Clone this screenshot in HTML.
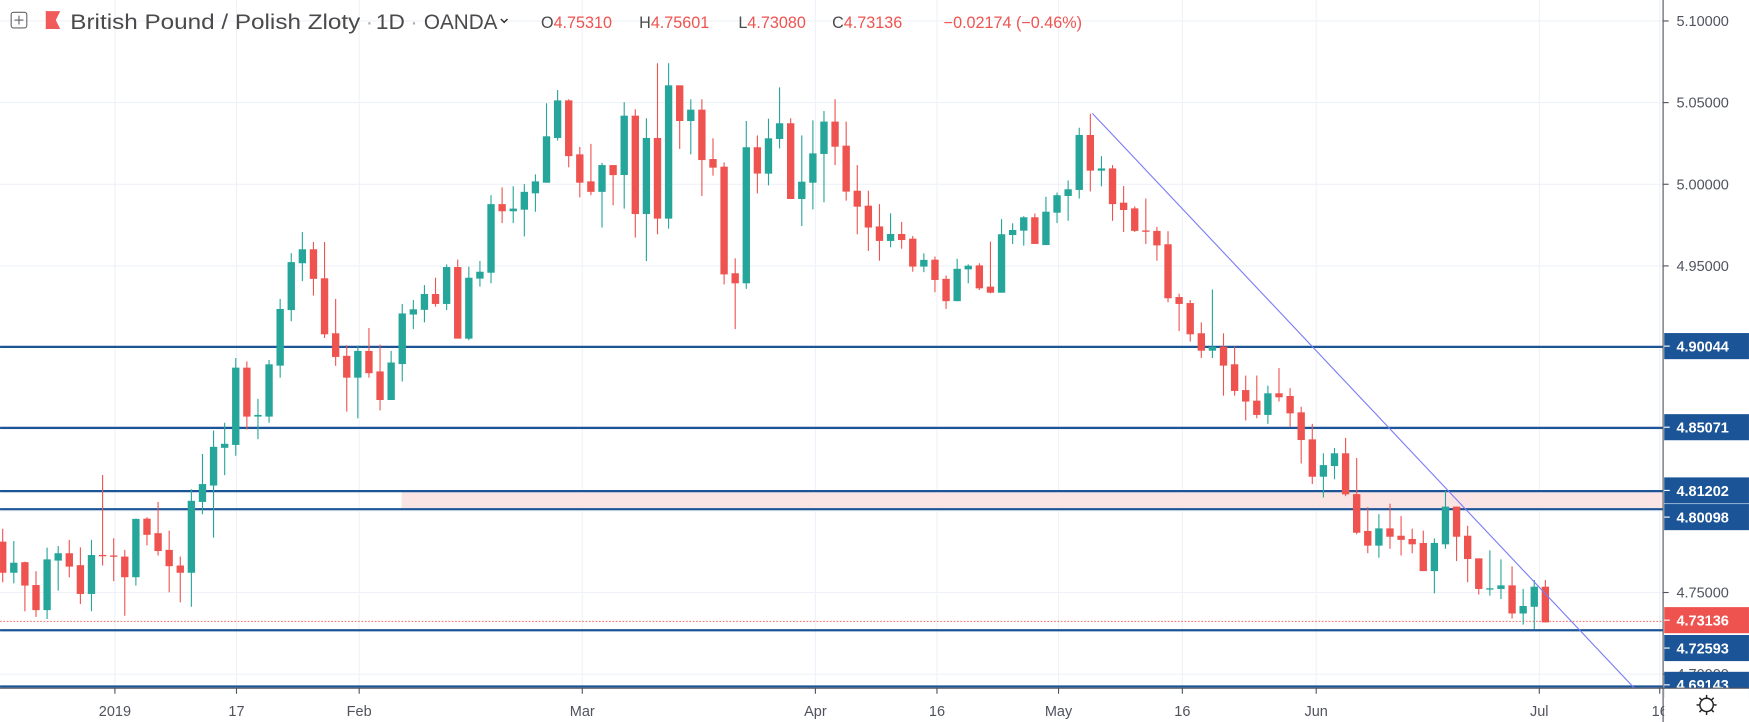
<!DOCTYPE html>
<html><head><meta charset="utf-8"><style>
html,body{margin:0;padding:0;background:#fff;overflow:hidden}
svg{display:block}
</style></head><body>
<svg id="c" width="1749" height="722" viewBox="0 0 1568 647.3" xmlns="http://www.w3.org/2000/svg" font-family="Liberation Sans, sans-serif">
<defs><clipPath id="plot"><rect x="0" y="0" width="1491" height="616.5"/></clipPath></defs>
<rect width="1568" height="647.3" fill="#fff"/>
<g id="grid" stroke="#eef2f8" stroke-width="1"></g>
<g clip-path="url(#plot)">
<rect x="360" y="440.5" width="1131" height="16" fill="#fbe4e4"/>
<g stroke="#1c5597" stroke-width="2">
<line x1="0" y1="311" x2="1491" y2="311"/>
<line x1="0" y1="383.6" x2="1491" y2="383.6"/>
<line x1="0" y1="440.3" x2="1491" y2="440.3"/>
<line x1="0" y1="456.5" x2="1491" y2="456.5"/>
<line x1="0" y1="565" x2="1491" y2="565"/>
<line x1="0" y1="615.5" x2="1491" y2="615.5"/>
</g>
<line x1="0" y1="557" x2="1491" y2="557" stroke="#ef5350" stroke-width="0.8" stroke-dasharray="1.5,1.5"/>
<g id="candles"></g>
<line x1="979.3" y1="101.6" x2="1500" y2="653.8" stroke="#7b7cf5" stroke-width="1"/>
</g>
<line x1="1491" y1="0" x2="1491" y2="647.3" stroke="#50535e" stroke-width="1"/>
<line x1="0" y1="617" x2="1491" y2="617" stroke="#50535e" stroke-width="1"/>
<g id="xaxis" font-size="13" fill="#50535e" text-anchor="middle"></g>
<g id="yaxis" font-size="13"></g>
<!-- header -->
<rect x="10" y="11" width="14" height="14" rx="2" fill="none" stroke="#666" stroke-width="1"/>
<line x1="17" y1="14" x2="17" y2="22" stroke="#666"/><line x1="13" y1="18" x2="21" y2="18" stroke="#666"/>
<path d="M41 10 H54 L50 18 L54 26 H41 Z" fill="#f05a5a"/>
<g font-size="19" fill="#4a4a4a">
<text x="63" y="26" textLength="260" lengthAdjust="spacingAndGlyphs">British Pound / Polish Zloty</text>
<text x="328" y="26" fill="#aaa">·</text>
<text x="337" y="26" textLength="26" lengthAdjust="spacingAndGlyphs">1D</text>
<text x="368" y="26" fill="#aaa">·</text>
<text x="380" y="26" textLength="66" lengthAdjust="spacingAndGlyphs">OANDA</text>
</g>
<path d="M449 17 l3 3 l3 -3" fill="none" stroke="#333" stroke-width="1.3"/>
<g font-size="14.5">
<text x="485" y="25" fill="#4a4a4a">O<tspan fill="#ef5350">4.75310</tspan></text>
<text x="573" y="25" fill="#4a4a4a">H<tspan fill="#ef5350">4.75601</tspan></text>
<text x="662" y="25" fill="#4a4a4a">L<tspan fill="#ef5350">4.73080</tspan></text>
<text x="746" y="25" fill="#4a4a4a">C<tspan fill="#ef5350">4.73136</tspan></text>
<text x="846" y="25" fill="#ef5350">−0.02174 (−0.46%)</text>
</g>
<!-- gear -->
<g transform="translate(1530,632)" stroke="#222" fill="none" stroke-width="1.3">
<circle r="6"/>
<line x1="0" y1="-9" x2="0" y2="-6"/><line x1="0" y1="6" x2="0" y2="9"/>
<line x1="-9" y1="0" x2="-6" y2="0"/><line x1="6" y1="0" x2="9" y2="0"/>
<line x1="-6.4" y1="-6.4" x2="-4.2" y2="-4.2"/><line x1="4.2" y1="4.2" x2="6.4" y2="6.4"/>
<line x1="-6.4" y1="6.4" x2="-4.2" y2="4.2"/><line x1="4.2" y1="-4.2" x2="6.4" y2="-6.4"/>
</g>
</svg>
<script>
var NS="http://www.w3.org/2000/svg";
function el(t,a,p){var e=document.createElementNS(NS,t);for(var k in a)e.setAttribute(k,a[k]);p.appendChild(e);return e;}
var D=[
"r 485.6 513.5 474 522","g 504.5 513.5 485 523","r 504 525 503.5 548","r 524.5 547 512 553","g 501.5 547 491 555",
"g 496 502.6 489.5 529.5","r 496 508 484 517.6","r 506.7 532.5 490.7 541.5","g 497.6 532.5 484 548","r 497.5 498.5 425.9 507",
"r 498 499 482.6 521","r 499 517.5 493 552","g 465.2 517.5 465 525","r 465 479.5 463.7 489","r 478 494 450 498",
"r 493 507.6 475.7 531","r 507 513.5 499 540","g 449 513.5 438.7 544","g 434 450 407 461","g 400.6 435.3 386 482",
"g 397.9 401.5 379 426","g 329.6 398.9 321 408.6","r 329.6 373.5 324 385","g 372 373.5 357.6 393.8","g 326.6 373.5 322.7 379",
"g 277 327.8 268 338.6","g 235 278 227 288","g 223.5 236 208 252","r 223.5 250 217 265","r 249.5 299.7 217 303",
"r 298.8 320 268 328","r 319 338.6 309.5 369","g 314.6 338.6 309.7 375","r 314.6 334.6 294 338.6","r 333 358.6 309 368",
"g 325 358.6 314.6 358.6","g 281 326.4 272.5 342","g 277.3 282 269 295","g 263.6 277.8 255.6 289","r 263.6 272.5 249 275",
"g 239.4 272.5 237 278","r 239.4 303.6 232.7 303.6","g 249 303.6 239 305","g 243.6 249.8 234 257","g 183 244.5 175 254",
"r 183 189.4 168 200","g 187 189.4 167 200","g 172 188 165 212","g 162.6 173.3 156.3 189.8","g 122.2 163.8 92.6 163.8",
"g 90 123.7 80.7 126","r 90 140 89 150","r 138.4 163.8 131.8 177","r 162.6 172 129 175","g 148 172 146 204",
"r 148 157 148 184","g 103.7 156.9 91.6 187","r 103.7 191.9 98 213","g 123.7 191.9 106 234","r 123.7 196 56.7 210",
"g 76.5 196 56.7 205","r 76.5 108.5 76.5 133.5","g 98.3 108.5 89 138.4","r 98.3 143.5 89 175.7","r 142.6 150.3 124 157.5",
"r 149.4 246 145.6 255","r 245 254 231.6 295","g 132 254 108.5 259","r 132 155.6 121.4 173.4","g 124 155.7 106.4 166.2",
"g 110.5 124.6 78.3 133","r 110.5 178.4 106 178.4","g 162.9 178.4 121.4 202.6","g 137.5 163.8 107.9 187.7","g 109 138 99.5 181.4",
"r 109 131.5 89 148","r 130.6 171.8 109 179.9","r 171 185.3 148 210","r 184.4 204 171 225","r 203 216 183 233.7",
"g 209.8 216 191.3 221.7","r 209.8 215.2 199 223","r 214 239 211.6 243.6","g 233 239 227.1 244","r 232.8 251 230 262",
"r 250 270 247 277","g 241 270 232 270","g 238.2 241.5 237 254","r 237.9 258.5 236 260","r 257 262.4 216.6 263",
"g 210 262.4 196.4 262.4","g 206.2 210.7 200.2 218.7","g 194.8 206.8 193.8 220.2","r 194.8 218.7 191.4 218.7","g 189.8 219.7 176.4 219.7",
"g 175 190.7 172.6 200","g 169.7 175.7 161.8 198","g 121 170.3 114.5 178","r 121 153 102 171.7","g 151 153 140 167",
"r 151 183 148 198","r 181.7 188.3 166.8 208","r 186.8 207 185 208","r 206.6 207.8 178 218.7","r 207 220 203.3 233.7",
"r 219 267.4 207.3 271","r 266.3 272.5 263.3 296.8","r 271.7 299.7 269 306.3","r 298.8 314.4 289 321","g 310.8 314.4 259.5 321",
"r 310.8 327.8 298.8 354.7","r 326.6 350.5 310.8 354.7","r 349.7 360 336.7 377","r 359.2 372 336.7 375","g 352.6 372 345.8 380",
"r 352.6 356.2 330 360","r 355 370.6 348 382.6","r 369.7 394.5 364.7 415.5","r 393.9 427.4 380 434","g 417 427.4 406.4 446",
"g 406.4 417.8 401.6 429.7","r 406.4 443.2 392.6 444.8","r 443 477.6 410.6 479","r 476 489.2 454.7 496","g 473.7 489.2 460.9 500",
"r 473.7 481.2 451.6 492","r 480.3 484 462.7 498","r 483.2 488 474 496","r 486.8 512 475.7 512","g 486.8 512 482.7 532",
"g 454.2 488 440 492","r 454.2 481.2 454.2 503","r 480.3 501.2 471.4 522","r 500.6 528 500.6 533","g 527.4 528 493.4 534",
"g 524.8 528 501.5 537","r 524.8 550 507.8 554.5","g 543.3 550 528 560","g 526 544 520 564","r 526 558 520 558"];
var cg=document.getElementById("candles");
D.forEach(function(s,i){var a=s.split(" ");var col=a[0]=="g"?"#26a69a":"#ef5350";
var t=+a[1],b=+a[2],h=+a[3],l=+a[4];var x=2.4+9.95*i;
el("line",{x1:x,x2:x,y1:Math.min(h,t),y2:Math.max(l,b),stroke:col,"stroke-width":1},cg);
el("rect",{x:x-3.3,y:t,width:6.6,height:Math.max(1.2,b-t),fill:col},cg);});
var g=document.getElementById("grid");
var lv=[5.10,5.05,5.00,4.95,4.90,4.85,4.80,4.75,4.70];
lv.forEach(function(p){var y=18.8+(5.10-p)*1464;el("line",{x1:0,x2:1491,y1:y,y2:y},g);});
var xt=[[103,"2019"],[212,"17"],[322,"Feb"],[522,"Mar"],[731,"Apr"],[840,"16"],[949,"May"],[1060,"16"],[1180,"Jun"],[1380,"Jul"],[1488,"16"]];
var xa=document.getElementById("xaxis");
xt.forEach(function(t){el("line",{x1:t[0],x2:t[0],y1:0,y2:617},g);
el("line",{x1:t[0],x2:t[0],y1:617,y2:622,stroke:"#50535e"},xa);
var tx=el("text",{x:t[0],y:642},xa);tx.textContent=t[1];});
var ya=document.getElementById("yaxis");
[5.10,5.05,5.00,4.95,4.75,4.70].forEach(function(p){var y=18.8+(5.10-p)*1464;
el("line",{x1:1491,x2:1496,y1:y,y2:y,stroke:"#50535e"},ya);
var t=el("text",{x:1503,y:y+4.5,fill:"#50535e"},ya);t.textContent=p.toFixed(5);});
function box(y,txt,col){el("rect",{x:1492,y:y-11.7,width:76,height:23.4,fill:col},ya);
el("line",{x1:1492,x2:1497,y1:y,y2:y,stroke:"#fff"},ya);
var t=el("text",{x:1503,y:y+4.8,fill:"#fff","font-weight":"bold"},ya);t.textContent=txt;}
box(310.3,"4.90044","#1c5597");box(383,"4.85071","#1c5597");box(439.7,"4.81202","#1c5597");
box(463.6,"4.80098","#1c5597");box(556,"4.73136","#ef5350");box(581,"4.72593","#1c5597");
box(614,"4.69143","#1c5597");
el("rect",{x:1492,y:617,width:76,height:31,fill:"#fff"},ya);
el("line",{x1:1491,x2:1568,y1:617,y2:617,stroke:"#50535e"},ya);
</script>
</body></html>
